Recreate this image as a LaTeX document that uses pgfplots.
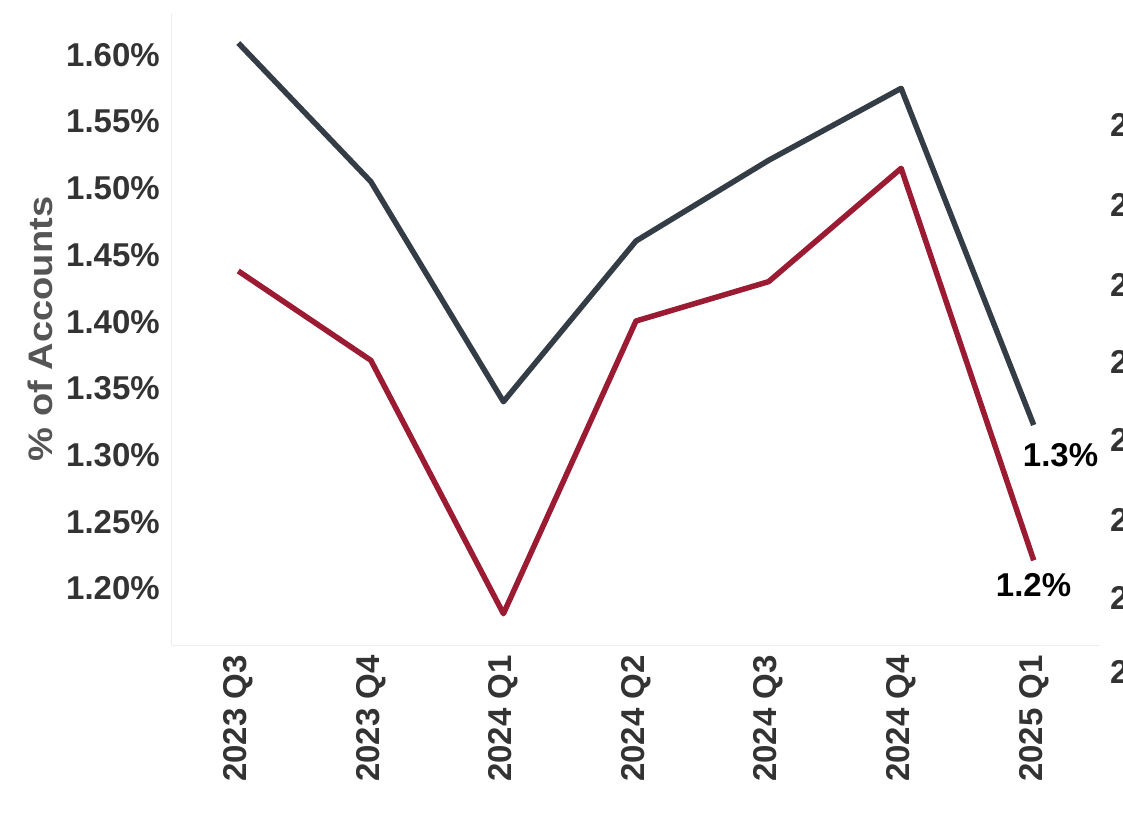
\documentclass[border=0pt]{standalone}
\usepackage{fontspec}
\setmainfont{Liberation Sans}
\usepackage{graphicx}
\usepackage{pgfplots}
\pgfplotsset{compat=1.18}
\definecolor{darkline}{HTML}{343D46}
\definecolor{redline}{HTML}{9A1B32}
\definecolor{tickgray}{HTML}{333333}
\definecolor{labelgray}{HTML}{555555}
\definecolor{axisgray}{HTML}{EEEEEE}
\begin{document}
\begin{tikzpicture}
\begin{axis}[
  at={(0,0)}, anchor=south west,
  scale only axis, width=928pt, height=632pt,
  xmin=-0.5, xmax=6.5, ymin=1.1575, ymax=1.6315,
  axis x line*=bottom, axis y line*=left,
  axis line style={draw=axisgray, line width=1pt},
  ytick={1.20,1.25,1.30,1.35,1.40,1.45,1.50,1.55,1.60},
  yticklabel={\pgfmathprintnumber[fixed,fixed zerofill,precision=2]{\tick}\%},
  /pgf/number format/assume math mode=true,
  xtick={0,1,2,3,4,5,6},
  xticklabels={2023 Q3,2023 Q4,2024 Q1,2024 Q2,2024 Q3,2024 Q4,2025 Q1},
  x tick label style={rotate=90, anchor=east, inner sep=0pt},
  y tick label style={inner sep=0pt},
  xticklabel shift=10pt, yticklabel shift=12pt,
  major tick length=0pt,
  tick style={draw=none},
  ticklabel style={font=\bfseries\fontsize{33}{33}\selectfont, text=tickgray},
  ylabel={\scalebox{1.12}[1]{\% of Accounts}},
  ylabel style={at={(axis description cs:-0.1422,0.5)}, anchor=center, font=\bfseries\fontsize{34}{34}\selectfont, text=labelgray},
  clip=false,
]
\addplot[darkline, line width=5.5pt, line join=round] coordinates {
  (0,1.609) (1,1.505) (2,1.340) (3,1.4605) (4,1.521) (5,1.575) (6,1.3225)};
\addplot[redline, line width=5.5pt, line join=round] coordinates {
  (0,1.438) (1,1.371) (2,1.181) (3,1.4005) (4,1.430) (5,1.515) (6,1.221)};
\node[anchor=north west, inner sep=0pt, xshift=-11pt, yshift=-18pt,
  font=\bfseries\fontsize{33}{33}\selectfont, text=black] at (axis cs:6,1.3225) {1.3\%};
\node[anchor=north west, inner sep=0pt, xshift=-38pt, yshift=-13pt,
  font=\bfseries\fontsize{33}{33}\selectfont, text=black] at (axis cs:6,1.221) {1.2\%};
\end{axis}
\foreach \yy in {520,440,360,283,205,125,47,-27}
  \node[anchor=west, inner sep=0pt, font=\bfseries\fontsize{33}{33}\selectfont, text=tickgray] at (938pt,\yy pt) {2};
\pgfresetboundingbox
\useasboundingbox (-172pt,-167pt) rectangle (951pt,645pt);
\end{tikzpicture}
\end{document}
